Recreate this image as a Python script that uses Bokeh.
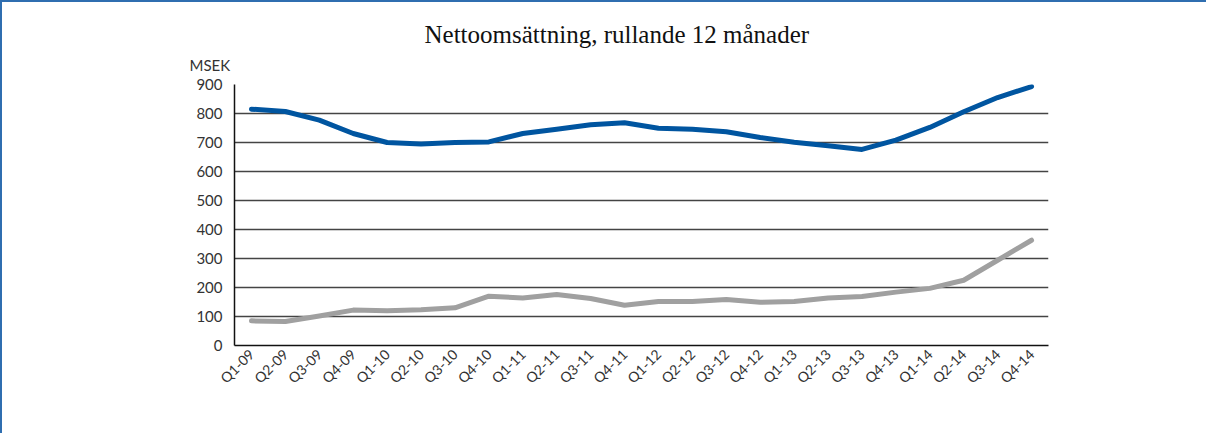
import math
from bokeh.plotting import figure
from bokeh.models import Range1d, SingleIntervalTicker, Legend, LegendItem, Title
from bokeh.embed import file_html
from bokeh.resources import INLINE

quarters = ["Q1-09", "Q2-09", "Q3-09", "Q4-09", "Q1-10", "Q2-10", "Q3-10", "Q4-10",
            "Q1-11", "Q2-11", "Q3-11", "Q4-11", "Q1-12", "Q2-12", "Q3-12", "Q4-12",
            "Q1-13", "Q2-13", "Q3-13", "Q4-13", "Q1-14", "Q2-14", "Q3-14", "Q4-14"]
marine_safety = [815, 807, 777, 731, 700, 695, 700, 702, 731, 746, 761, 768,
                 749, 746, 737, 717, 701, 689, 676, 708, 752, 806, 855, 893]
fire_automation = [85, 83, 102, 122, 120, 123, 130, 170, 164, 176, 162, 139,
                   152, 152, 159, 149, 152, 164, 169, 184, 197, 225, 294, 363]

title_text = "Nettoomsättning, rullande 12 månader"
unit_text = "MSEK"

p = figure(x_range=quarters, y_range=Range1d(0, 900),
           frame_width=814, frame_height=261,
           output_backend="svg", toolbar_location=None, title_location=None,
           min_border_left=232, min_border_right=158, min_border_top=82, min_border_bottom=20)

p.add_layout(Title(text=unit_text, align="left", offset=-45, standoff=22,
                   text_font="Lato", text_font_size="15px", text_font_style="normal",
                   text_color="#333333"), "above")
p.add_layout(Title(text=title_text, align="left", offset=190, standoff=-11,
                   text_font="Liberation Serif", text_font_size="25px", text_font_style="normal",
                   text_color="#111111"), "above")

p.outline_line_color = None
p.background_fill_color = "white"
p.border_fill_color = "white"
p.styles = {"border-top": "2px solid #2f6eb0", "border-left": "2px solid #2f6eb0"}

r1 = p.line(quarters, marine_safety, line_color="#0055a0", line_width=5, line_cap="round", line_join="round")
r2 = p.line(quarters, fire_automation, line_color="#a0a0a0", line_width=5, line_cap="round", line_join="round")

p.yaxis.ticker = SingleIntervalTicker(interval=100)
p.ygrid.ticker = SingleIntervalTicker(interval=100)
p.ygrid.grid_line_color = "#444444"
p.ygrid.grid_line_width = 1.3
p.xgrid.grid_line_color = None

for ax in (p.xaxis[0], p.yaxis[0]):
    ax.axis_line_color = "#111111"
    ax.axis_line_width = 1.5
    ax.major_tick_line_color = None
    ax.minor_tick_line_color = None
    ax.major_tick_out = 0
    ax.major_tick_in = 0
    ax.major_label_text_font = "Lato"
    ax.major_label_text_font_size = "15px"
    ax.major_label_text_color = "#333333"

p.yaxis.major_label_standoff = 8
p.xaxis.major_label_orientation = math.pi / 4
p.xaxis.major_label_standoff = 6
p.xaxis.major_label_text_font_size = "14px"

legend = Legend(items=[LegendItem(label="Marine & Safety", renderers=[r1]),
                       LegendItem(label="Fire safety & Automation", renderers=[r2])],
                orientation="horizontal", location="center", spacing=103,
                glyph_width=63, glyph_height=14, label_standoff=6,
                label_text_font="Lato", label_text_font_size="16px", label_text_color="#333333",
                border_line_color=None, background_fill_alpha=0, padding=0, margin=0)
p.add_layout(legend, "below")

open("out.html", "w").write(file_html(p, INLINE))
